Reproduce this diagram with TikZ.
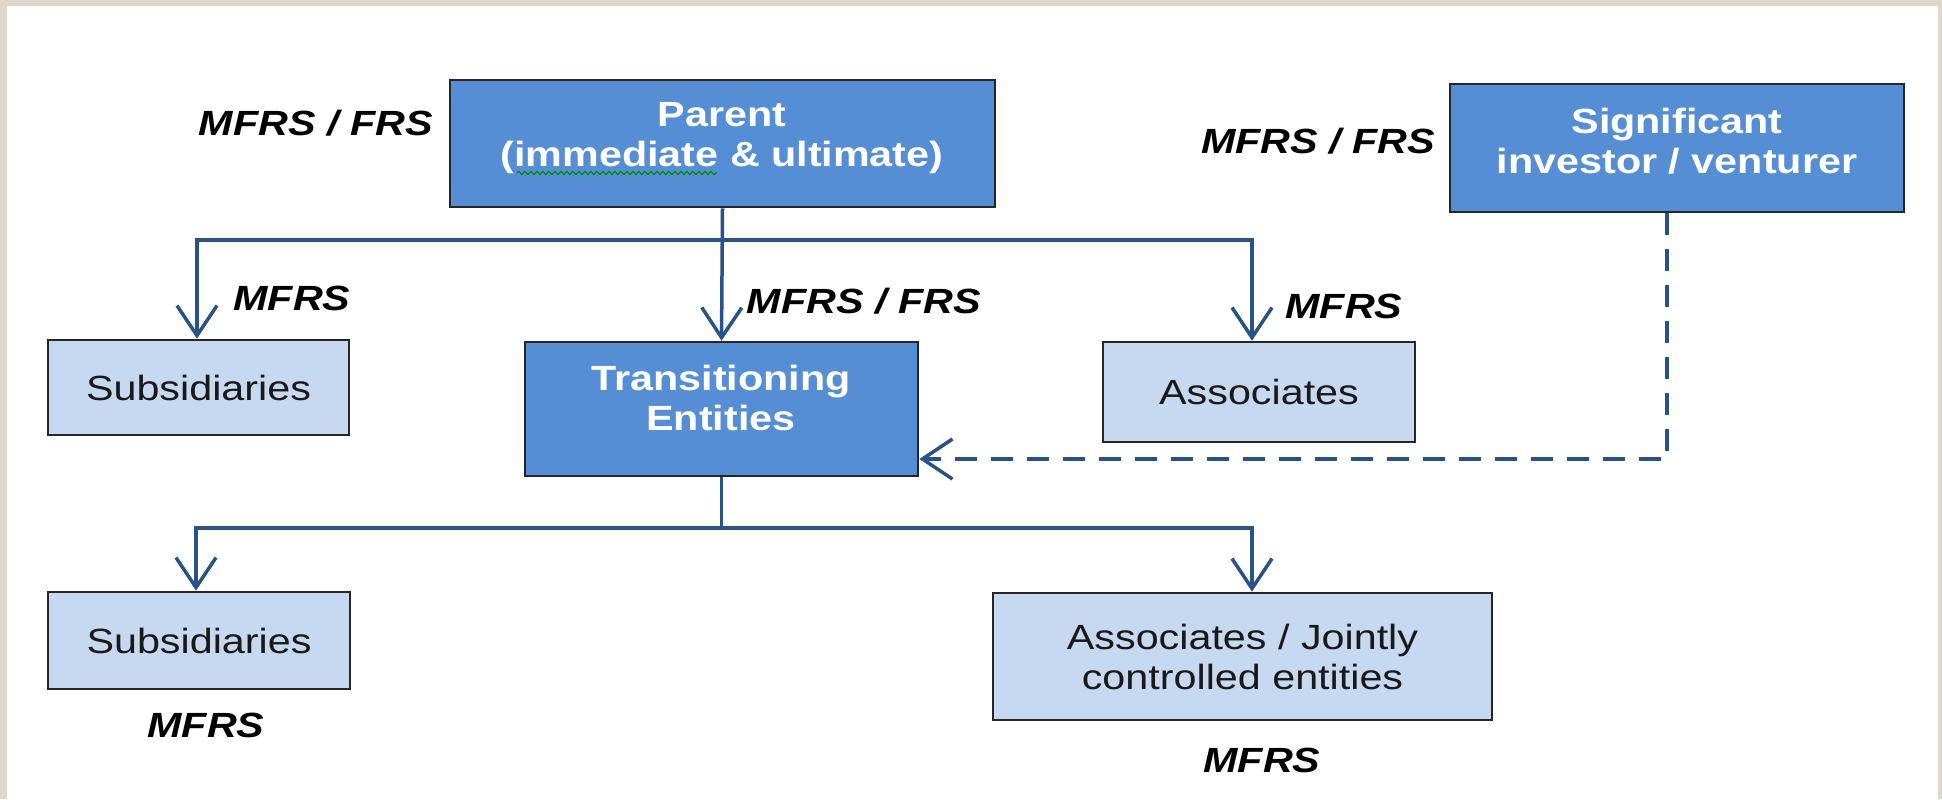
\documentclass[tikz,border=0pt]{standalone}
\usepackage{fontspec}
\setmainfont{Liberation Sans}[FakeStretch=1.18]
\usetikzlibrary{arrows.meta,calc,decorations.pathmorphing}
\definecolor{framebg}{RGB}{222,215,204}
\definecolor{darkfill}{RGB}{85,142,213}
\definecolor{lightfill}{RGB}{198,217,241}
\definecolor{linkblue}{RGB}{41,82,136}
\definecolor{spellgreen}{RGB}{0,140,0}
\begin{document}
\begin{tikzpicture}[x=0.5pt,y=-0.5pt,
  box/.style={draw=black!85, line width=1.3pt, inner sep=0pt, font=\fontsize{17.5}{20}\selectfont, align=center},
  darkbox/.style={box, fill=darkfill},
  lightbox/.style={box, fill=lightfill, text=black!90},
  boxtext/.style={text=white, font=\fontsize{17.5}{20}\selectfont\bfseries, align=center, inner sep=0pt, anchor=base},
  stdlabel/.style={font=\fontsize{17.5}{20}\selectfont\bfseries\itshape, inner sep=0pt, anchor=base},
  link/.style={draw=linkblue, line width=1.75pt},
  arrowlink/.style={link, -{Straight Barb[length=15pt,width=20pt]}},
  dashlink/.style={arrowlink, dash pattern=on 11pt off 7pt},
]
% frame
\fill[framebg] (0,0) rectangle (1942,799);
\fill[white] (7,6) rectangle (1938,799);
\useasboundingbox (0,0) rectangle (1942,799);

% boxes
\node[darkbox, minimum width=272.5pt, minimum height=63.5pt] (parent) at (722.5,143.5) {};
\node[boxtext] (parentT) at (722,166) {Parent\\(immediate \& ultimate)};
\node[darkbox, minimum width=227pt, minimum height=64pt] (sig) at (1677,148) {};
\node[boxtext] (sigT) at (1677,173) {Significant\\investor / venturer};
\node[lightbox, minimum width=150.5pt, minimum height=47.5pt] (sub1) at (198.5,387.5) {Subsidiaries};
\node[darkbox, minimum width=196.5pt, minimum height=67pt] (te) at (721.5,409) {};
\node[boxtext] (teT) at (721,430) {Transitioning\\Entities};
\node[lightbox, minimum width=156pt, minimum height=50pt] (assoc) at (1259,392) {Associates};
\node[lightbox, minimum width=151pt, minimum height=48.5pt] (sub2) at (199,640.5) {Subsidiaries};
\node[lightbox, minimum width=249.5pt, minimum height=63.5pt] (jce) at (1242.5,656.5) {Associates / Jointly\\controlled entities};

% spell-check underline
\draw[spellgreen, line width=0.6pt, decorate, decoration={snake, amplitude=0.8pt, segment length=3pt}] (517,173) -- (717,173);

% connectors
\coordinate (bus1) at (719,240);
\coordinate (bus2) at (719,528);
\draw[arrowlink] (parent.south) -- (te.north);
\draw[arrowlink] (parent.south |- bus1) -| ($(sub1.north)+(-1.5,0)$);
\draw[arrowlink] (parent.south |- bus1) -| ($(assoc.north)+(-7,0)$);
\draw[link] (te.south) -- (te.south |- bus2);
\draw[arrowlink] (te.south |- bus2) -| ($(sub2.north)+(-3,0)$);
\draw[arrowlink] (te.south |- bus2) -| ($(jce.north)+(9.5,0)$);
\draw[dashlink] ($(sig.south)+(-10,0)$) |- ($(te.east)+(0,50)$);

% labels
\node[stdlabel] (l1) at (316,135) {MFRS / FRS};
\node[stdlabel] (l2) at (1318,153) {MFRS / FRS};
\node[stdlabel] (l3) at (292,310) {MFRS};
\node[stdlabel] (l4) at (864,313) {MFRS / FRS};
\node[stdlabel] (l5) at (1344,318) {MFRS};
\node[stdlabel] (l6) at (206,737) {MFRS};
\node[stdlabel] (l7) at (1262,772) {MFRS};
\end{tikzpicture}
\end{document}
